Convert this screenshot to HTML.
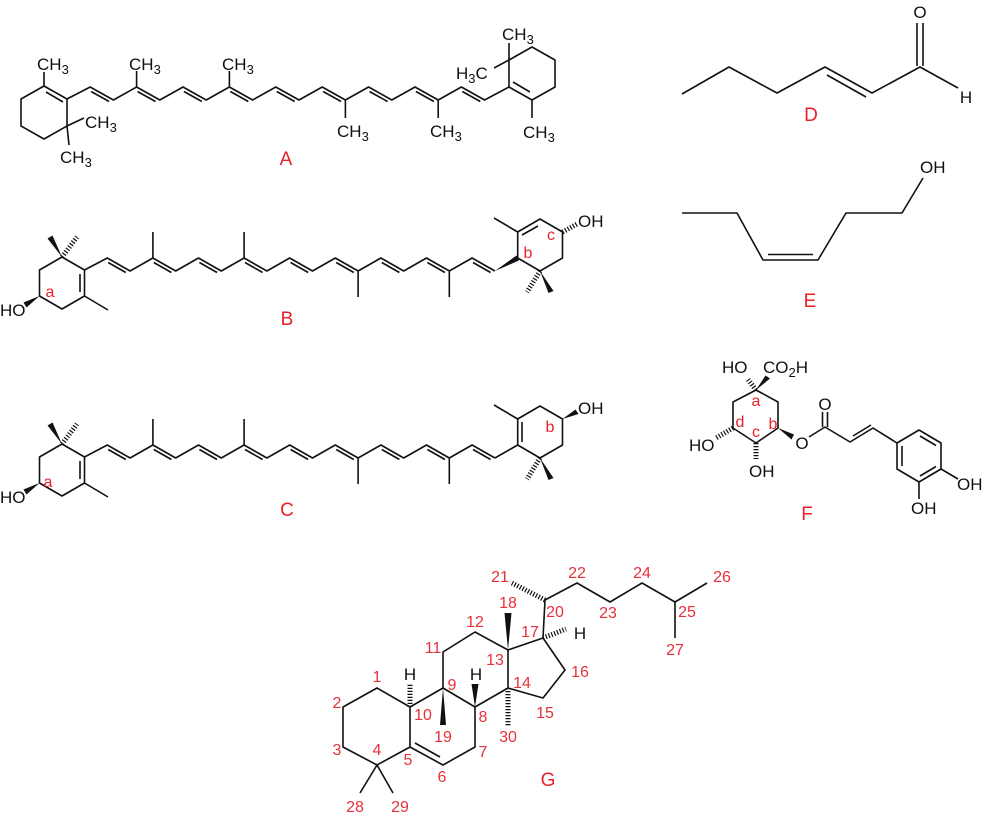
<!DOCTYPE html>
<html><head><meta charset="utf-8"><style>
html,body{margin:0;padding:0;background:#fff;}
svg{display:block;}
text{font-family:"Liberation Sans",sans-serif;}
.k{fill:#111;font-size:17px;}
.r{fill:#e8202a;font-size:19px;text-anchor:middle;}
.n{fill:#e8303a;font-size:16px;text-anchor:middle;}
.s{fill:#e8202a;font-size:16px;text-anchor:middle;}
.b{stroke:#111;stroke-width:1.6;fill:none;stroke-linejoin:round;}
.h{stroke:#111;stroke-width:5;stroke-dasharray:1.2 1.8;fill:none;}
.w{fill:#111;}
</style></head><body>
<svg width="987" height="820" viewBox="0 0 987 820" xmlns="http://www.w3.org/2000/svg">
<!-- A -->
<path class="b" d="M67,99 L90.2,87 113.4,100 136.6,87 159.8,100 183,87 206.2,100 229.4,87 252.6,100 275.8,87 299,100 322.2,87 345.4,100 368.6,87 391.8,100 415,87 438.2,100 461.4,87 484.6,100 509,87
M91.1,91.5 L109.1,101.5 M137.5,91.5 L155.5,101.5 M183.9,91.5 L201.9,101.5 M230.3,91.5 L248.3,101.5 M276.7,91.5 L294.7,101.5 M323.1,91.5 L341.1,101.5 M369.5,91.5 L387.5,101.5 M415.9,91.5 L433.9,101.5 M462.3,91.5 L480.3,101.5
M136.6,87 V71 M229.4,87 V71 M345.4,100 V118 M438.2,100 V118
M44,86 L67,99 L67,126 L44,139 L21,126 L21,99 Z M46,92 L63,102 M44,86 V72 M67,126 L84,118 M67,126 L69,145
M509,87 V60 L532,47 L555,60 V87 L532,100 Z M513,82 L530,92 M532,100 V118 M509,60 V43 M509,60 L494,68"/>
<text class="k" x="37" y="70">CH<tspan font-size="13" dy="4">3</tspan></text>
<text class="k" x="85" y="128">CH<tspan font-size="13" dy="4">3</tspan></text>
<text class="k" x="60" y="163">CH<tspan font-size="13" dy="4">3</tspan></text>
<text class="k" x="129" y="70">CH<tspan font-size="13" dy="4">3</tspan></text>
<text class="k" x="222" y="70">CH<tspan font-size="13" dy="4">3</tspan></text>
<text class="k" x="337" y="137">CH<tspan font-size="13" dy="4">3</tspan></text>
<text class="k" x="430" y="137">CH<tspan font-size="13" dy="4">3</tspan></text>
<text class="k" x="523" y="138">CH<tspan font-size="13" dy="4">3</tspan></text>
<text class="k" x="502" y="40">CH<tspan font-size="13" dy="4">3</tspan></text>
<text class="k" x="456" y="79">H<tspan font-size="13" dy="4">3</tspan><tspan dy="-4">C</tspan></text>
<text class="r" x="286" y="165">A</text>

<!-- B and C shared left part -->
<g id="lp">
<path class="b" d="M84.5,270 L107.3,258 130.1,271 152.9,258 175.7,271 198.5,258 221.3,271 244.1,258 266.9,271 289.7,258 312.5,271 335.3,258 358.1,271 380.9,258 403.7,271 426.5,258 449.3,271 472.1,258 494.9,271
M108.2,262.5 L125.8,272.5 M153.8,262.5 L171.4,272.5 M199.4,262.5 L217,272.5 M245,262.5 L262.6,272.5 M290.6,262.5 L308.2,272.5 M336.2,262.5 L353.8,272.5 M381.8,262.5 L399.4,272.5 M427.4,262.5 L445,272.5 M473,262.5 L490.6,272.5
M152.9,258 V232 M244.1,258 V232 M358.1,271 V297 M449.3,271 V297
M62,257 L84.5,270 V296 L62,309 L39.5,296 V270 Z M80,274 V292 M84.5,296 L108,310
M517.7,258 V232 L540,219 L562.5,232 V258 L540,271 Z M517.7,232 L494,218"/>
<polygon class="w" points="62,257 47.5,238.5 52.5,235.5"/>
<line class="h" x1="62" y1="257" x2="77" y2="237"/>
<polygon class="w" points="39.5,296 23.5,302.5 26.5,307.5"/>
<text class="k" x="0" y="316">HO</text>
<line class="h" x1="540" y1="271" x2="527" y2="292"/>
<polygon class="w" points="540,271 548.5,293 553.5,291"/>
</g>
<!-- B specifics -->
<polygon class="w" points="494.9,271 516.5,255.5 519,260.5"/>
<path class="b" d="M522,235 L538,226"/>
<line class="h" x1="562.5" y1="232" x2="577" y2="224"/>
<text class="k" x="578" y="227">OH</text>
<text class="s" x="50" y="297">a</text>
<text class="s" x="528" y="258">b</text>
<text class="s" x="551" y="240">c</text>
<text class="r" x="287" y="325">B</text>
<!-- C -->
<use href="#lp" transform="translate(0,187)"/>
<path class="b" d="M494.9,458 L517.7,445 M522,422 V442"/>
<polygon class="w" points="562.5,419 575.5,409.5 578.5,414"/>
<text class="k" x="578" y="414">OH</text>
<text class="s" x="48" y="487">a</text>
<text class="s" x="550" y="432">b</text>
<text class="r" x="287" y="516">C</text>

<!-- D -->
<path class="b" d="M682,94 L729,67 777,93 825,67 872,93 920,67 L958,88 M827,75 L866,97 M917,66 V23 M923,66 V23"/>
<text class="k" x="920" y="18" text-anchor="middle">O</text>
<text class="k" x="966" y="103" text-anchor="middle">H</text>
<text class="r" x="811" y="121">D</text>
<!-- E -->
<path class="b" d="M682,213 L737,213 763,260 818,260 846,213 902,213 923,178 M768,254.5 L813,254.5"/>
<text class="k" x="920" y="173">OH</text>
<text class="r" x="810" y="307">E</text>

<!-- F -->
<path class="b" d="M756,390 L778,402 V428 L756,443 L733,428 V402 Z
M809,437 L825,427 L850,442 L873,428 L897,443 M853,436 L871,425 M822.5,427 V412 M827.5,427 V412
M897,443 L919,430 L941,443 V469 L919,482 L897,469 Z M920,436 L936,445.5 M902,446 V466 M936,466.5 L920,476
M941,469 L958,479 M919,482 V499"/>
<line class="h" x1="756" y1="390" x2="747" y2="378"/>
<polygon class="w" points="756,390 765.5,375.5 770,378.5"/>
<text class="k" x="722" y="373">HO</text>
<text class="k" x="763" y="373">CO<tspan font-size="13" dy="4">2</tspan><tspan dy="-4">H</tspan></text>
<line class="h" x1="733" y1="428" x2="716" y2="438"/>
<text class="k" x="689" y="451">HO</text>
<line class="h" x1="756" y1="443" x2="756" y2="459"/>
<text class="k" x="749" y="477">OH</text>
<polygon class="w" points="778,428 794,434.5 791.5,439.5"/>
<text class="k" x="802" y="449" text-anchor="middle">O</text>
<text class="k" x="825" y="410" text-anchor="middle">O</text>
<text class="k" x="957" y="490">OH</text>
<text class="k" x="911" y="514">OH</text>
<text class="s" x="756" y="406">a</text>
<text class="s" x="740" y="427">d</text>
<text class="s" x="756" y="437">c</text>
<text class="s" x="773" y="429">b</text>
<text class="r" x="807" y="520">F</text>

<!-- G -->
<path class="b" d="M377,688 L343,707 V747 L377,765 L410,747 V707 Z
M410,707 L443,688 L475,707 V747 L443,765 L410,747 M415,743 L440,757
M443,688 V652 L475,632 L508,650 V688 L475,707
M508,650 L543,638 L565,670 L543,698 L508,688
M543,638 L545,600 M545,600 L577,583 L610,602 L642,583 L675,602 L707,583 M675,602 V638
M377,765 L360,793 M377,765 L393,793"/>
<line class="h" x1="545" y1="600" x2="512" y2="583"/>
<line class="h" x1="410" y1="707" x2="410" y2="684"/>
<polygon class="w" points="443,688 440,725 446,725"/>
<polygon class="w" points="475,707 471.5,684 478.5,684"/>
<polygon class="w" points="508,650 504.5,613 511.5,613"/>
<line class="h" x1="508" y1="688" x2="508" y2="726"/>
<line class="h" x1="543" y1="638" x2="566" y2="629"/>
<text class="k" x="410" y="680" text-anchor="middle" font-size="20">H</text>
<text class="k" x="476" y="680" text-anchor="middle" font-size="20">H</text>
<text class="k" x="580" y="639" text-anchor="middle" font-size="20">H</text>
<g class="n">
<text x="377" y="682">1</text><text x="337" y="708">2</text><text x="337" y="755">3</text><text x="377" y="755">4</text>
<text x="408" y="765">5</text><text x="442" y="782">6</text><text x="483" y="757">7</text><text x="483" y="722">8</text>
<text x="452" y="690">9</text><text x="423" y="720">10</text><text x="433" y="653">11</text><text x="475" y="627">12</text>
<text x="495" y="665">13</text><text x="522" y="688">14</text><text x="545" y="718">15</text><text x="580" y="677">16</text>
<text x="530" y="637">17</text><text x="508" y="608">18</text><text x="443" y="742">19</text><text x="555" y="617">20</text>
<text x="500" y="582">21</text><text x="577" y="578">22</text><text x="608" y="618">23</text><text x="642" y="578">24</text>
<text x="687" y="617">25</text><text x="722" y="582">26</text><text x="675" y="655">27</text><text x="355" y="812">28</text>
<text x="400" y="812">29</text><text x="508" y="742">30</text>
</g>
<text class="r" x="548" y="786">G</text>
</svg>
</body></html>
